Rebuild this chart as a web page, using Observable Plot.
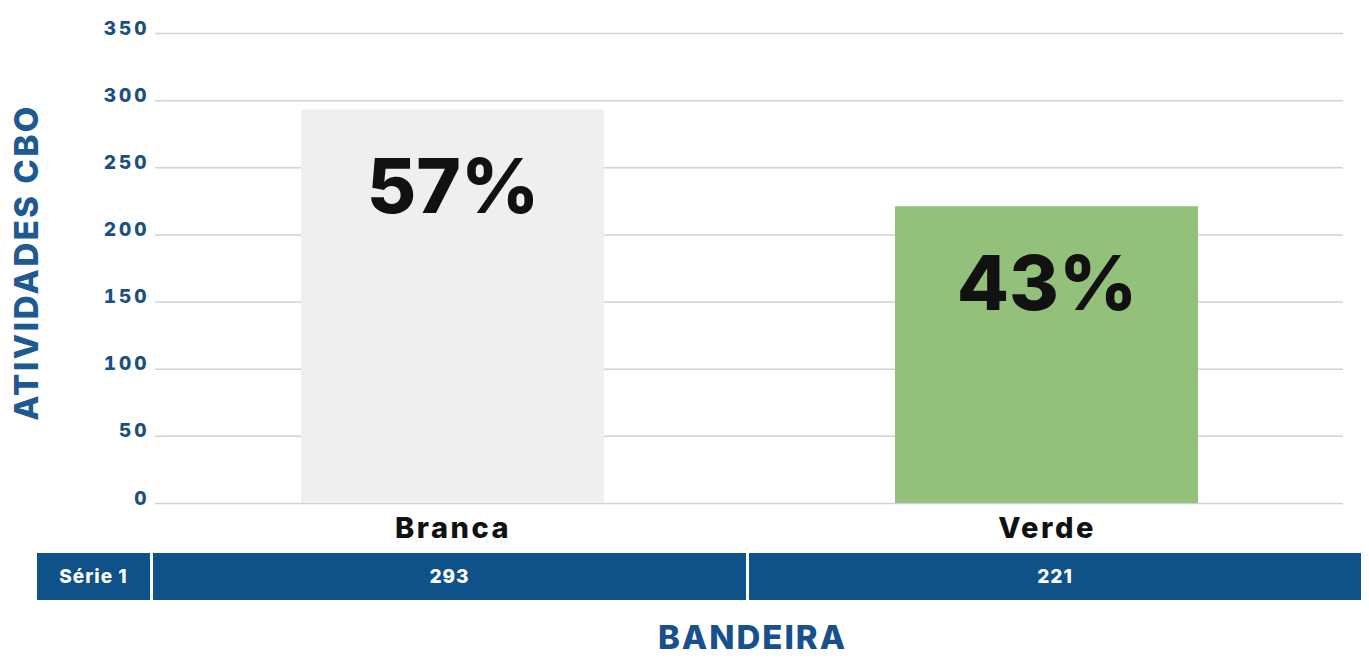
<!DOCTYPE html>
<html>
<head>
<meta charset="utf-8">
<script src="https://cdn.jsdelivr.net/npm/d3@7"></script>
<script src="https://cdn.jsdelivr.net/npm/@observablehq/plot@0.6"></script>
<style>
  html, body { margin: 0; padding: 0; background: #fff; }
  body { position: relative; width: 1369px; height: 659px; overflow: hidden; font-family: Inter, "Noto Sans", sans-serif; }
  #chart svg { display: block; }
  #chart g[aria-label="y-axis tick label"] text { letter-spacing: 3px; }
  #chart g[aria-label="x-axis tick label"] text { letter-spacing: 2.5px; }
  #chart text.ylabel { letter-spacing: 2.5px; }
  #table { display: flex; margin-left: 37px; margin-top: 5px; width: 1325px; height: 47px; gap: 3px; }
  #table div { background: #0f5189; color: #fff; font-weight: 800; font-size: 19px; letter-spacing: 1px; display: flex; align-items: center; justify-content: center; }
  #xlabel { position: absolute; left: 0; top: 622px; height: 30px; line-height: 30px; width: 1369px; padding-left: 136px; box-sizing: border-box; text-align: center; font-size: 33px; font-weight: 800; color: #17508a; letter-spacing: 2px; }
</style>
</head>
<body>
<div id="chart"></div>
<div id="table"></div>
<div id="xlabel"></div>
<script>
const categories = ["Branca", "Verde"];
const values = [293, 221];
const percents = ["57%", "43%"];
const barColors = ["#efefef", "#93c17b"];
const yTicks = [0, 50, 100, 150, 200, 250, 300, 350];
const seriesName = "Série 1";
const yLabel = "ATIVIDADES CBO";
const xLabel = "BANDEIRA";
const cellWidths = [113, 593, 612];

const data = categories.map((c, i) => ({cat: c, value: values[i], pct: percents[i]}));

const chart = Plot.plot({
  width: 1369,
  height: 548,
  marginLeft: 155,
  marginRight: 26,
  marginTop: 33,
  marginBottom: 45,
  style: {fontFamily: "Inter, 'Noto Sans', sans-serif", background: "white", overflow: "visible"},
  x: {domain: categories, paddingInner: 0.49, paddingOuter: 0.245, label: null},
  y: {domain: [0, 350], ticks: yTicks, label: null},
  color: {domain: categories, range: barColors},
  marks: [
    Plot.ruleY(yTicks, {stroke: "#d2d2d2", strokeWidth: 1.5}),
    Plot.barY(data, {x: "cat", y: "value", fill: "cat"}),
    Plot.text(data, {x: "cat", y: "value", text: "pct", dy: 103, lineAnchor: "bottom", fontSize: 76, fontWeight: 800, fill: "#111"}),
    Plot.axisY(yTicks, {tickSize: 0, tickPadding: 6, fontSize: 19, fontWeight: 800, fill: "#1c4f80", dy: -5, label: null}),
    Plot.axisX({tickSize: 0, tickPadding: 14, fontSize: 29, fontWeight: 800, fill: "#111", label: null}),
    Plot.text([yLabel], {frameAnchor: "left", textAnchor: "middle", rotate: -90, dx: -128, dy: -6, fontSize: 33, fontWeight: 800, fill: "#1d5a91"})
  ]
});
chart.querySelectorAll("text").forEach(t => { if (t.textContent === yLabel) t.classList.add("ylabel"); });
document.getElementById("chart").append(chart);

const table = document.getElementById("table");
[seriesName, ...values.map(String)].forEach((t, i) => {
  const d = document.createElement("div");
  d.style.width = cellWidths[i] + "px";
  d.textContent = t;
  table.append(d);
});
document.getElementById("xlabel").textContent = xLabel;
</script>
</body>
</html>
